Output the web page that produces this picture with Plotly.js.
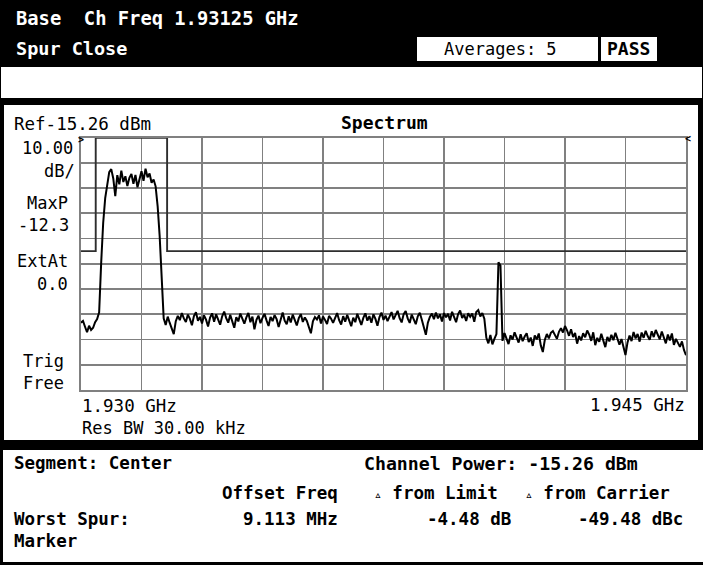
<!DOCTYPE html>
<html><head><meta charset="utf-8">
<script src="https://cdn.plot.ly/plotly-3.0.1.min.js"></script>
<style>html,body{margin:0;padding:0;background:#000;}#chart{width:703px;height:565px;}</style>
</head><body><div id="chart"></div>
<script>
// ---------- data ----------
const startFreqGHz = 1.930;
const stopFreqGHz = 1.945;
const refLevelDbm = -15.26;
const dbPerDiv = 10;
const numDivs = 10;

const spectrumDbm = [
 -88.6, -87.9, -90.2, -92.4, -89.8, -91.5, -90.6, -88.4, -87.2,
 -84.5, -64.9, -49.1, -39.3, -33.4,
 -29.0, -27.8, -31.5, -38.5, -30.2, -33.8, -28.4, -32.9, -30.6, -34.5, -31.2, -29.7,
 -33.6, -30.1, -35.0, -31.8, -28.6, -32.4, -27.6, -31.0, -29.5, -33.2, -31.9, -34.6,
 -42.4, -54.2, -73.9, -86.9,
 -89.5, -86.2, -88.7, -91.3, -93.1, -88.0, -85.9, -87.6, -84.8, -86.9,
 -88.3, -85.4, -87.1, -89.6, -86.0, -84.5, -87.8, -86.3, -88.9, -85.7,
 -87.4, -90.1, -86.6, -84.9, -88.2, -85.3, -87.0, -89.4, -86.1, -84.2,
 -86.8, -88.6, -85.5, -87.9, -90.6, -86.4, -88.1, -85.0, -87.3, -89.0,
 -86.5, -84.7, -88.4, -86.2, -91.2, -87.5, -85.8, -88.8, -86.7, -85.1,
 -87.7, -89.9, -86.3, -88.0, -85.6, -87.2, -90.3, -86.9, -84.6, -87.8,
 -89.2, -86.1, -88.5, -85.4, -87.6, -89.7, -86.8, -85.2, -88.3, -86.5,
 -87.9, -90.4, -92.8, -88.1, -86.4, -87.3, -85.7, -88.9, -86.2, -87.5,
 -89.1, -85.9, -87.0, -88.7, -86.3, -84.8, -87.6, -89.3, -86.0, -88.2,
 -85.5, -87.4, -90.0, -86.6, -88.4, -85.1, -87.2, -89.5, -86.7, -84.9,
 -87.8, -86.0, -88.6, -85.3, -87.1, -89.8, -86.4, -84.6, -87.5, -85.8,
 -88.0, -86.2, -84.4, -87.3, -85.6, -83.9, -86.8, -88.5, -85.2, -84.0,
 -86.9, -88.7, -85.4, -87.6, -89.2, -86.1, -84.7, -87.4, -90.5, -93.4,
 -88.6, -86.3, -85.0, -87.2, -84.6, -86.9, -85.3, -88.1, -84.8, -86.5,
 -85.1, -87.7, -84.3, -86.6, -88.4, -85.2, -83.8, -86.7, -85.5, -87.9,
 -84.9, -86.3, -85.0, -88.2, -84.4, -83.6, -86.1, -84.8, -87.0,
 -94.6, -96.8, -93.5, -97.2, -95.0, -93.1,
 -64.7,
 -66.0, -95.8, -92.7, -94.9, -97.1, -93.6, -95.3, -92.4, -94.7, -96.5,
 -93.2, -95.9, -94.1, -92.8, -96.3, -94.5, -97.8, -93.7, -95.2, -92.9,
 -97.6, -100.2, -95.4, -93.1, -94.8, -92.6, -91.9, -93.5, -95.0, -92.2,
 -90.8, -92.5, -89.9, -91.6, -93.8, -91.2, -94.3, -92.7, -96.9, -93.9,
 -95.6, -92.8, -94.4, -91.7, -93.3, -95.8, -92.4, -97.5, -94.6, -96.2,
 -93.0, -95.7, -98.3, -94.2, -96.0, -93.4, -95.5, -92.6, -94.9, -97.3,
 -95.1, -98.6, -101.4, -96.4, -93.7, -95.9, -92.3, -94.8, -93.1, -96.1,
 -92.5, -94.6, -91.8, -93.9, -95.4, -92.0, -94.3, -91.5, -93.6, -95.2,
 -92.1, -94.7, -96.8, -93.3, -95.6, -92.9, -97.4, -95.0, -96.5, -98.2,
 -96.0, -99.4, -101.5
];

const limitFreqGHz = [1.930, 1.930365, 1.930365, 1.932135, 1.932135, 1.945];
const limitDbm     = [-60.26, -60.26, -15.4, -15.4, -60.26, -60.26];

const xTickLabels = ['1.930 GHz', '1.945 GHz'];

// ---------- layout helpers (pixel -> paper) ----------
const W = 703, H = 565;
const px = x => x / W;
const py = y => 1 - y / H;

const MONO = '"DejaVu Sans Mono", monospace';
const annotations = [];
function ann(text, x, y, o) {
  o = o || {};
  annotations.push({
    text: text, xref: 'paper', yref: 'paper', x: px(x), y: py(y),
    xanchor: o.xa || 'left', yanchor: 'middle', showarrow: false,
    font: { family: MONO, size: o.size || 17, color: o.color || '#000', weight: o.bold ? 'bold' : 'normal' }
  });
}
function rect(x0, y0, x1, y1, fill) {
  return { type: 'rect', xref: 'paper', yref: 'paper', layer: 'below',
    x0: px(x0), x1: px(x1), y0: py(y1), y1: py(y0),
    fillcolor: fill, line: { width: 0 } };
}

const shapes = [
  rect(417, 37, 598, 61, '#fff'),
  rect(601, 37, 657, 61, '#fff'),
  rect(1, 67, 702, 98, '#fff'),
  rect(4, 105, 698, 440, '#fff'),
  rect(3, 450, 703, 562, '#fff')
];

// header
ann('Base&nbsp; Ch Freq 1.93125 GHz', 14, 18, { color: '#fff', bold: true, size: 18.8 });
ann('Spur Close', 14, 48, { color: '#fff', bold: true, size: 18.5 });
ann('Averages: 5', 500, 49, { xa: 'center', size: 17 });
ann('PASS', 628, 49, { xa: 'center', bold: true, size: 18 });

// plot panel labels
ann('Ref-15.26 dBm', 12, 124, { size: 17.5 });
ann('Spectrum', 384, 123, { xa: 'center', bold: true, size: 18 });
ann('10.00', 75, 148, { xa: 'right' });
ann('dB/', 77, 171, { xa: 'right' });
ann('MaxP', 70, 203, { xa: 'right' });
ann('-12.3', 71, 225, { xa: 'right' });
ann('ExtAt', 70, 261, { xa: 'right' });
ann('0.0', 70, 284, { xa: 'right' });
ann('Trig', 21, 361);
ann('Free', 21, 383);
ann(xTickLabels[0], 80, 406, { size: 17.5 });
ann('Res BW 30.00 kHz', 80, 428, { size: 17 });
ann(xTickLabels[1], 687, 405, { xa: 'right', size: 17.5 });
ann('&gt;', 76, 139, { size: 10, bold: true });
ann('&lt;', 693, 138, { size: 10, xa: 'right', bold: true });

// bottom panel
ann('Segment: Center', 12, 463, { bold: true, size: 17.5 });
ann('Channel Power: -15.26 dBm', 362, 463, { bold: true, size: 18.2 });
ann('Offset Freq', 340, 493, { xa: 'right', bold: true, size: 17.5 });
ann('<span style="font-size:13px">▵</span> from Limit', 500, 493, { xa: 'right', bold: true, size: 17.5 });
ann('<span style="font-size:13px">▵</span> from Carrier', 672, 493, { xa: 'right', bold: true, size: 17.5 });
ann('Worst Spur:', 12, 519, { bold: true, size: 17.5 });
ann('9.113 MHz', 340, 519, { xa: 'right', bold: true, size: 17.5 });
ann('-4.48 dB', 513, 519, { xa: 'right', bold: true, size: 17.5 });
ann('-49.48 dBc', 685, 519, { xa: 'right', bold: true, size: 17.5 });
ann('Marker', 12, 541, { bold: true, size: 17.5 });

// ---------- traces ----------
const nPts = spectrumDbm.length;
const traces = [
  {
    type: 'scatter', mode: 'lines', name: 'Limit',
    x: limitFreqGHz, y: limitDbm,
    line: { color: '#2e2e2e', width: 1.9 }, hoverinfo: 'skip'
  },
  {
    type: 'scatter', mode: 'lines', name: 'Spectrum',
    x0: startFreqGHz, dx: (stopFreqGHz - startFreqGHz) / (nPts - 1),
    y: spectrumDbm,
    line: { color: '#000', width: 2 }
  }
];

const gridCol = '#808080';
const layout = {
  width: W, height: H,
  margin: { l: 0, r: 0, t: 0, b: 0, pad: 0 },
  paper_bgcolor: '#000',
  plot_bgcolor: 'rgba(0,0,0,0)',
  showlegend: false,
  xaxis: {
    domain: [81 / W, 686 / W],
    range: [startFreqGHz, stopFreqGHz],
    tick0: startFreqGHz, dtick: (stopFreqGHz - startFreqGHz) / numDivs,
    showticklabels: false, ticks: '', zeroline: false,
    showgrid: true, gridcolor: gridCol, gridwidth: 1.8,
    showline: true, linecolor: gridCol, linewidth: 1.8, mirror: true
  },
  yaxis: {
    domain: [(H - 390) / H, (H - 137.5) / H],
    range: [refLevelDbm - dbPerDiv * numDivs, refLevelDbm],
    tick0: refLevelDbm, dtick: dbPerDiv,
    showticklabels: false, ticks: '', zeroline: false,
    showgrid: true, gridcolor: gridCol, gridwidth: 1.8,
    showline: true, linecolor: gridCol, linewidth: 1.8, mirror: true
  },
  shapes: shapes,
  annotations: annotations
};

Plotly.newPlot('chart', traces, layout, { staticPlot: true, displayModeBar: false });
</script>
</body></html>
